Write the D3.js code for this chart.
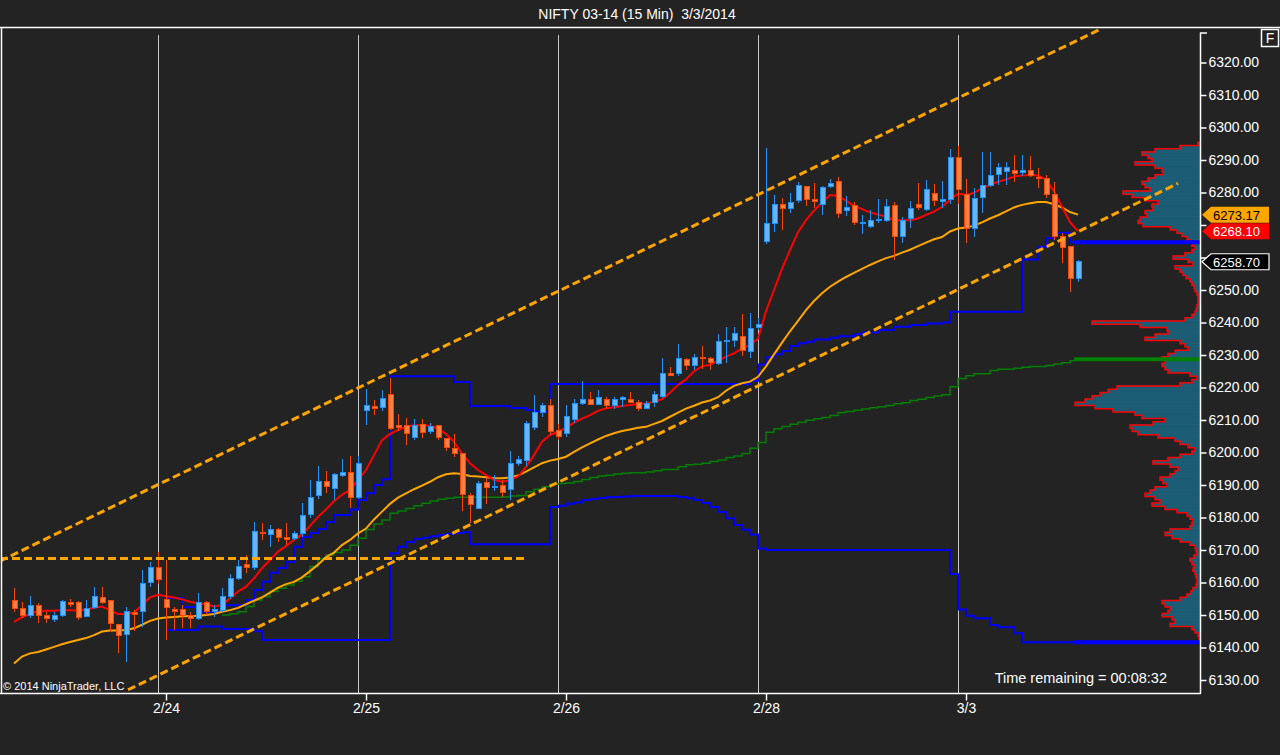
<!DOCTYPE html>
<html>
<head>
<meta charset="utf-8">
<script src="https://cdn.jsdelivr.net/npm/d3@7"></script>
<style>
  body { margin: 0; background: #232323; }
  svg { display: block; font-family: "Liberation Sans", Arial, sans-serif; }
</style>
</head>
<body>
<svg id="chart" width="1280" height="755"></svg>
<script>
// ---- data (NIFTY 03-14, 15 min bars, 2/21 partial .. 3/3) ----
var sessionStartBars = [19, 44, 69, 94, 119];
var sessionLabels = ["2/24", "2/25", "2/26", "2/28", "3/3"];
var priceTicks = [6130, 6140, 6150, 6160, 6170, 6180, 6190, 6200, 6210, 6220, 6230,
                  6240, 6250, 6260, 6270, 6280, 6290, 6300, 6310, 6320];
// labels hidden behind the price markers
var hiddenTickLabels = [6260, 6270];

var opens = [
  6154.6, 6152.1, 6149.7, 6153.0, 6150.0, 6148.5, 6150.0, 6154.0, 6154.0, 6149.5, 6152.3, 6155.5, 6154.6, 6147.0, 6144.0, 6150.8, 6151.0, 6160.0, 6164.7,
  6154.8, 6151.7, 6151.7, 6149.7, 6149.0, 6154.0, 6151.0, 6151.5, 6155.6, 6161.3, 6165.4, 6164.6, 6175.5, 6174.8, 6176.2, 6173.9, 6173.5, 6175.1, 6181.0, 6186.7, 6191.2, 6189.0, 6193.0, 6194.0, 6186.2,
  6213.0, 6214.3, 6213.8, 6217.7, 6208.3, 6208.2, 6204.7, 6208.7, 6206.4, 6208.2, 6204.4, 6201.3, 6199.7, 6186.9, 6182.9, 6190.8, 6189.2, 6189.7, 6188.5, 6196.7, 6197.5, 6207.7, 6212.2, 6214.5, 6206.9,
  6205.7, 6210.3, 6215.1, 6216.3, 6214.8, 6216.3, 6214.6, 6216.2, 6216.3, 6215.4, 6213.6, 6215.4, 6217.2, 6224.2, 6224.3, 6228.7, 6226.7, 6229.3, 6229.0, 6227.4, 6234.2, 6234.4, 6235.8, 6231.1, 6238.5,
  6264.9, 6270.5, 6276.3, 6275.1, 6277.5, 6281.9, 6277.9, 6276.4, 6281.9, 6283.3, 6274.5, 6275.9, 6270.5, 6269.5, 6271.3, 6271.5, 6275.9, 6266.4, 6272.0, 6276.2, 6274.8, 6279.7, 6277.2, 6277.7, 6290.8,
  6279.4, 6269.0, 6278.5, 6282.1, 6285.4, 6286.4, 6286.9, 6286.2, 6286.9, 6284.7, 6284.4, 6279.5, 6266.6, 6263.5, 6253.6
];
var highs = [
  6158.3, 6154.0, 6155.8, 6153.7, 6151.0, 6151.0, 6154.6, 6155.0, 6154.2, 6154.6, 6158.7, 6158.7, 6154.6, 6147.2, 6152.5, 6151.5, 6163.8, 6166.4, 6169.5,
  6166.9, 6152.5, 6153.0, 6151.0, 6156.8, 6154.3, 6153.0, 6158.3, 6162.5, 6166.9, 6168.5, 6178.7, 6178.2, 6177.7, 6176.7, 6178.2, 6176.0, 6184.4, 6191.5, 6195.8, 6194.3, 6193.6, 6197.9, 6198.9, 6198.9,
  6219.4, 6216.3, 6219.2, 6222.8, 6211.8, 6210.5, 6210.2, 6210.2, 6209.2, 6208.5, 6204.6, 6205.7, 6199.9, 6187.6, 6191.3, 6192.4, 6193.1, 6191.5, 6200.6, 6198.9, 6209.8, 6217.7, 6215.3, 6216.4, 6208.8,
  6214.6, 6216.6, 6222.0, 6218.7, 6219.2, 6217.0, 6217.2, 6217.4, 6218.7, 6216.3, 6215.8, 6219.0, 6229.0, 6226.4, 6233.4, 6229.2, 6230.3, 6232.8, 6229.5, 6236.5, 6238.7, 6238.7, 6242.6, 6242.8, 6241.5,
  6293.6, 6279.2, 6278.2, 6280.0, 6283.3, 6282.1, 6282.8, 6282.0, 6284.3, 6284.7, 6278.9, 6277.2, 6273.2, 6274.6, 6278.0, 6277.9, 6277.2, 6272.6, 6277.4, 6282.8, 6284.0, 6282.6, 6283.6, 6293.3, 6294.3,
  6284.3, 6281.3, 6292.5, 6292.5, 6289.2, 6289.5, 6291.5, 6291.5, 6291.2, 6287.6, 6285.4, 6283.1, 6267.6, 6263.6, 6259.1
];
var lows = [
  6150.9, 6149.0, 6149.0, 6147.6, 6147.5, 6148.0, 6149.5, 6152.5, 6148.5, 6149.4, 6152.0, 6153.4, 6145.0, 6138.3, 6135.6, 6145.0, 6146.4, 6158.7, 6159.5,
  6142.3, 6145.4, 6146.0, 6146.0, 6148.5, 6150.0, 6149.5, 6151.0, 6155.0, 6160.8, 6163.0, 6163.8, 6173.0, 6171.0, 6172.6, 6171.5, 6173.0, 6174.1, 6179.7, 6185.8, 6187.4, 6185.5, 6192.6, 6182.8, 6185.8,
  6208.5, 6211.5, 6212.9, 6206.9, 6206.7, 6202.3, 6203.8, 6204.6, 6205.7, 6203.7, 6200.5, 6198.7, 6182.1, 6178.2, 6182.5, 6184.2, 6188.2, 6186.2, 6185.4, 6195.8, 6195.8, 6206.9, 6210.8, 6205.4, 6203.8,
  6204.9, 6209.2, 6214.6, 6214.6, 6214.6, 6213.3, 6213.3, 6214.0, 6215.1, 6212.9, 6213.3, 6214.1, 6216.7, 6223.5, 6223.5, 6225.4, 6225.4, 6225.6, 6225.4, 6226.9, 6227.4, 6232.6, 6229.7, 6229.2, 6237.6,
  6264.2, 6268.0, 6268.5, 6273.8, 6276.9, 6275.8, 6275.1, 6273.2, 6281.3, 6272.2, 6272.8, 6270.0, 6267.2, 6269.0, 6270.5, 6271.0, 6259.2, 6264.6, 6269.2, 6274.6, 6274.4, 6275.8, 6275.1, 6276.6, 6276.6,
  6264.6, 6266.2, 6273.6, 6281.8, 6282.3, 6282.3, 6283.3, 6285.1, 6284.7, 6281.4, 6278.2, 6265.4, 6258.2, 6249.5, 6252.6
];
var closes = [
  6152.1, 6149.7, 6153.0, 6150.0, 6149.0, 6150.0, 6154.3, 6153.3, 6149.3, 6152.0, 6155.8, 6154.0, 6147.4, 6143.8, 6151.0, 6150.2, 6159.8, 6164.5, 6160.8,
  6152.2, 6151.1, 6150.0, 6149.0, 6154.0, 6151.0, 6151.8, 6155.6, 6161.3, 6165.0, 6164.7, 6175.8, 6175.1, 6176.2, 6173.8, 6173.3, 6175.1, 6180.7, 6186.2, 6191.2, 6189.5, 6193.1, 6194.0, 6186.2, 6196.6,
  6214.4, 6213.5, 6216.7, 6207.4, 6207.7, 6205.7, 6208.4, 6206.1, 6207.9, 6204.7, 6201.6, 6199.7, 6187.1, 6184.0, 6190.5, 6189.2, 6189.6, 6187.6, 6196.7, 6197.7, 6208.8, 6212.4, 6214.6, 6206.5, 6204.9,
  6211.2, 6215.1, 6216.3, 6214.8, 6216.9, 6214.6, 6216.3, 6216.8, 6215.4, 6213.6, 6215.1, 6217.9, 6224.2, 6223.8, 6229.0, 6226.7, 6229.3, 6228.9, 6227.6, 6234.1, 6234.6, 6236.5, 6231.3, 6238.2, 6239.5,
  6270.5, 6276.3, 6275.1, 6277.0, 6282.2, 6278.0, 6277.2, 6281.6, 6282.8, 6273.6, 6275.4, 6270.8, 6270.8, 6271.5, 6271.8, 6275.6, 6266.4, 6271.5, 6275.2, 6275.4, 6280.8, 6277.4, 6277.9, 6290.8, 6281.0,
  6269.0, 6278.2, 6282.1, 6285.1, 6287.7, 6287.7, 6285.9, 6286.9, 6285.1, 6284.3, 6279.5, 6266.4, 6263.1, 6253.6, 6258.7
];

// fast (red) and slow (orange) moving averages, one value per bar
var fastMA = [
  6147.9, 6149.3, 6150.3, 6151.2, 6151.3, 6151.3, 6151.5, 6151.5, 6151.3, 6151.7, 6152.2, 6152.6, 6151.5, 6150.3, 6150.3, 6150.7, 6153.1, 6155.4, 6156.2,
  6155.8, 6155.4, 6154.8, 6154.1, 6153.6, 6153.3, 6152.6, 6153.1, 6155.1, 6157.2, 6158.7, 6161.3, 6164.4, 6166.9, 6169.5, 6171.2, 6173.1, 6174.8, 6177.4, 6180.2, 6182.5, 6185.0, 6187.0, 6188.5, 6191.5,
  6194.6, 6199.2, 6203.8, 6205.7, 6206.9, 6207.9, 6208.4, 6208.4, 6208.2, 6207.4, 6205.7, 6203.3, 6199.7, 6196.7, 6194.6, 6193.1, 6191.5, 6191.0, 6191.5, 6192.6, 6195.6, 6199.2, 6203.3, 6205.4, 6206.4,
  6207.6, 6209.2, 6210.4, 6211.5, 6212.8, 6213.6, 6213.9, 6214.3, 6214.6, 6214.9, 6215.1, 6215.6, 6216.4, 6218.4, 6220.8, 6222.5, 6225.0, 6226.5, 6227.0, 6228.2, 6229.5, 6230.5, 6232.0, 6233.1, 6235.0,
  6243.5, 6250.0, 6256.5, 6262.3, 6267.8, 6271.5, 6274.4, 6276.9, 6279.2, 6278.9, 6277.5, 6275.9, 6274.9, 6273.9, 6273.2, 6272.6, 6271.5, 6271.5, 6271.5, 6272.0, 6273.1, 6274.1, 6275.6, 6277.7, 6279.7,
  6279.2, 6279.9, 6281.3, 6282.3, 6283.3, 6284.0, 6284.9, 6285.2, 6285.4, 6285.2, 6284.0, 6280.3, 6275.6, 6270.9, 6268.1
];
var slowMA = [
  6135.1, 6137.2, 6138.2, 6138.6, 6139.4, 6140.2, 6141.0, 6141.7, 6142.3, 6142.9, 6143.8, 6144.9, 6145.2, 6145.2, 6145.4, 6145.9, 6147.0, 6148.2, 6148.9,
  6149.2, 6149.4, 6149.6, 6149.7, 6149.8, 6150.0, 6150.3, 6151.0, 6151.5, 6152.2, 6153.3, 6154.4, 6155.4, 6156.9, 6158.4, 6159.5, 6160.2, 6161.6, 6163.5, 6165.5, 6167.8, 6169.2, 6171.5, 6173.1, 6175.1,
  6176.6, 6179.4, 6181.8, 6184.2, 6186.1, 6187.4, 6188.7, 6189.8, 6191.0, 6192.4, 6193.3, 6193.6, 6193.4, 6192.8, 6192.6, 6192.4, 6192.1, 6192.1, 6192.3, 6192.9, 6194.1, 6195.4, 6196.7, 6197.5, 6198.0,
  6198.7, 6200.2, 6201.6, 6202.8, 6204.0, 6205.1, 6205.9, 6206.6, 6207.1, 6207.6, 6207.9, 6208.8, 6209.7, 6211.0, 6212.3, 6213.5, 6214.4, 6215.4, 6216.0, 6217.0, 6219.0, 6220.5, 6221.3, 6221.8, 6223.3,
  6226.5, 6230.2, 6233.8, 6237.3, 6240.5, 6243.8, 6246.6, 6249.0, 6251.0, 6252.6, 6254.0, 6255.3, 6256.5, 6257.7, 6258.8, 6259.8, 6260.5, 6261.5, 6262.4, 6263.5, 6264.6, 6265.6, 6266.3, 6268.0, 6268.9,
  6269.2, 6269.8, 6270.8, 6272.0, 6273.0, 6274.2, 6275.4, 6276.2, 6276.7, 6277.1, 6277.1, 6276.4, 6275.4, 6274.0, 6273.2
];

// stepped lines, first bar index + one value per bar
var greenStart = 26;
var greenLine = [
  6150.0, 6150.4, 6151.0, 6152.6, 6154.6, 6155.6, 6157.2, 6158.2, 6159.2, 6160.4, 6161.8, 6164.9, 6167.4, 6168.5, 6169.2, 6170.0, 6171.5, 6173.6,
  6176.3, 6178.0, 6179.2, 6181.3, 6182.0, 6182.8, 6183.6, 6184.4, 6185.1, 6185.6, 6185.9, 6186.2, 6186.2, 6186.2, 6186.2, 6186.2, 6186.2, 6186.3, 6186.6, 6186.8, 6187.9, 6188.7, 6189.5, 6190.2, 6190.5,
  6190.6, 6191.1, 6191.7, 6192.3, 6192.8, 6193.0, 6193.4, 6193.6, 6193.8, 6193.8, 6194.0, 6194.4, 6194.8, 6194.8, 6195.6, 6196.2, 6196.4, 6196.7, 6197.2, 6197.7, 6198.5, 6198.9, 6199.7, 6201.3, 6203.1,
  6206.2, 6207.3, 6208.0, 6208.7, 6209.3, 6209.9, 6210.4, 6210.8, 6211.4, 6212.3, 6212.6, 6213.0, 6213.4, 6213.8, 6214.1, 6214.5, 6215.0, 6215.3, 6216.0, 6216.4, 6216.9, 6217.4, 6217.8, 6220.2, 6222.8,
  6223.6, 6224.2, 6224.2, 6225.2, 6225.6, 6225.6, 6225.9, 6226.2, 6226.5, 6226.5, 6226.8, 6227.2, 6227.6, 6228.2
];
var greenLast = 6228.7;
var blueStart = 19;
var blueUpper = [
  6155.2, 6155.2, 6152.5, 6152.5, 6151.0, 6151.0, 6151.0, 6153.0, 6153.0, 6153.0, 6154.6, 6157.7, 6160.2, 6163.0, 6164.5, 6166.3, 6171.0, 6174.0, 6175.2, 6176.5, 6178.6, 6180.8, 6180.8, 6182.5, 6185.4,
  6187.5, 6190.0, 6191.8, 6223.5, 6223.5, 6223.5, 6223.5, 6223.5, 6223.5, 6223.5, 6223.5, 6221.7, 6221.7, 6214.3, 6214.3, 6214.3, 6214.3, 6214.3, 6213.7, 6213.7, 6213.1, 6212.6, 6212.6, 6221.1, 6221.1,
  6221.1, 6221.1, 6221.1, 6221.1, 6221.1, 6221.1, 6221.1, 6221.1, 6221.1, 6221.1, 6221.1, 6221.1, 6221.1, 6221.1, 6221.1, 6221.1, 6221.1, 6221.1, 6221.1, 6221.1, 6221.1, 6221.1, 6221.1, 6222.1, 6227.1,
  6229.3, 6230.2, 6231.2, 6232.8, 6233.6, 6234.1, 6234.8, 6234.8, 6235.3, 6235.8, 6235.8, 6236.4, 6236.9, 6236.9, 6237.7, 6237.7, 6238.7, 6238.7, 6239.2, 6239.2, 6239.7, 6239.7, 6240.0, 6243.3, 6243.3,
  6243.3, 6243.3, 6243.3, 6243.3, 6243.3, 6243.3, 6243.3, 6259.4, 6259.4, 6263.3, 6265.9, 6267.6, 6267.6, 6264.7
];
var blueLower = [
  6145.4, 6145.4, 6145.4, 6145.4, 6146.5, 6146.5, 6146.5, 6145.7, 6145.7, 6145.7, 6145.7, 6145.0, 6142.3, 6142.3, 6142.3, 6142.3, 6142.3, 6142.3, 6142.3, 6142.3, 6142.3, 6142.3, 6142.3, 6142.3, 6142.3,
  6142.3, 6142.3, 6142.3, 6169.0, 6171.0, 6172.5, 6173.4, 6173.8, 6174.2, 6174.6, 6175.0, 6175.2, 6175.5, 6171.8, 6171.8, 6171.8, 6171.8, 6171.8, 6171.8, 6171.8, 6171.8, 6171.8, 6171.8, 6183.2, 6183.6,
  6184.2, 6184.6, 6185.4, 6185.7, 6186.0, 6186.2, 6186.3, 6186.5, 6186.6, 6186.6, 6186.6, 6186.6, 6186.6, 6186.6, 6186.3, 6185.9, 6185.4, 6184.5, 6183.2, 6181.7, 6179.8, 6177.7, 6176.2, 6174.8, 6170.5,
  6170.0, 6170.0, 6170.0, 6170.0, 6170.0, 6170.0, 6170.0, 6170.0, 6170.0, 6170.0, 6170.0, 6170.0, 6170.0, 6170.0, 6170.0, 6170.0, 6170.0, 6170.0, 6170.0, 6170.0, 6170.0, 6170.0, 6170.0, 6162.6, 6151.7,
  6149.8, 6149.0, 6149.0, 6146.9, 6146.2, 6146.2, 6144.4, 6141.6, 6141.6, 6141.6, 6141.6, 6141.6, 6141.6, 6141.6
];

// drawn trend lines: [bar, price] at both ends
var channelUpper = [[-1.75, 6166.6], [135.75, 6330.2]];
var channelLower = [[14.25, 6127.0], [145.5, 6282.8]];
var levelLine = [[-1.75, 6167.4], [63.9, 6167.4]];

// volume profile, one value per point from the top price downwards
var profileTop = 6295;
var profileVolume = [
  2, 20, 45, 58, 52, 48, 65, 45, 38, 37, 45, 52, 58, 55, 50, 77, 68, 55, 42, 48, 47, 55, 53, 60, 62, 57,
  30, 23, 18, 13, 10, 8, 5, 8, 15, 27, 12, 7, 25, 20, 17, 14, 10, 8, 6, 5, 3, 2, 2, 2, 3, 4, 5, 8, 15,
  108, 60, 33, 32, 45, 55, 20, 15, 12, 25, 32, 38, 35, 38, 35, 32, 10, 3, 8, 20,
  83, 92, 100, 108, 115, 125, 105, 87, 65, 58, 35, 47, 70, 68, 62, 42, 25, 20, 12, 5, 8,
  20, 32, 47, 30, 22, 25, 30, 40, 37, 33, 45, 50, 55, 45, 40, 48, 35, 23, 13, 10, 7, 8, 10,
  30, 35, 28, 20, 10, 5, 4, 3, 6, 10, 8, 6, 7, 5, 4, 3, 3, 4, 7, 9, 13, 20,
  38, 35, 30, 32, 38, 28, 25, 30, 8, 5, 2, 1, 0
];

// right-hand price markers
var markerValues = [6273.17, 6268.10, 6258.70];
var markerFills = ["#ffa500", "#ff0000", "#000000"];
var markerText = ["#000000", "#ffffff", "#ffffff"];

// ---- drawing ----
var width = 1280, height = 755;
var plot = { left: 1, top: 27, right: 1200, bottom: 693 };

var svg = d3.select("#chart");

var x = d3.scaleLinear().domain([0, 133]).range([14, 1078]);
var y = d3.scaleLinear().domain([6130, 6320]).range([680, 62.5]);
var vol = d3.scaleLinear().domain([0, 100]).range([0, 100]);

svg.append("rect")
    .attr("width", width).attr("height", height)
    .attr("fill", "#232323");

// title (two spaces before the date, as in the original)
svg.append("text")
    .attr("x", 637).attr("y", 19)
    .attr("text-anchor", "middle")
    .attr("fill", "#ffffff")
    .attr("xml:space", "preserve")
    .style("white-space", "pre")
    .style("font-size", "14px")
    .text("NIFTY 03-14 (15 Min)  3/3/2014");

svg.append("defs").append("clipPath").attr("id", "plotclip")
    .append("rect")
    .attr("x", plot.left).attr("y", plot.top)
    .attr("width", plot.right - plot.left).attr("height", plot.bottom - plot.top);

var g = svg.append("g").attr("clip-path", "url(#plotclip)");

// volume profile
var levels = profileVolume.map((v, k) => ({ price: profileTop - k, v: v }));
var prof = g.append("g");
prof.selectAll("rect")
    .data(levels)
    .join("rect")
        .attr("x", d => plot.right - vol(d.v))
        .attr("y", d => y(d.price + 0.5))
        .attr("width", d => vol(d.v))
        .attr("height", d => y(d.price - 0.5) - y(d.price + 0.5))
        .attr("fill", "#1b5b73")
        .attr("stroke", "#216a84")
        .attr("stroke-width", 0.4);

var outline = [[plot.right, y(profileTop + 0.5)]];
levels.forEach(d => {
    outline.push([plot.right - vol(d.v), y(d.price + 0.5)]);
    outline.push([plot.right - vol(d.v), y(d.price - 0.5)]);
});
outline.push([plot.right, y(levels[levels.length - 1].price - 0.5)]);
prof.append("path")
    .attr("d", d3.line()(outline))
    .attr("fill", "none")
    .attr("stroke", "#ff0000")
    .attr("stroke-width", 1.5);

// session separators
g.append("g")
  .selectAll("line")
  .data(sessionStartBars)
  .join("line")
    .attr("x1", d => Math.round(x(d - 1)) + 0.5)
    .attr("x2", d => Math.round(x(d - 1)) + 0.5)
    .attr("y1", 35)
    .attr("y2", plot.bottom)
    .attr("stroke", "#c8c8c8")
    .attr("stroke-width", 1);

// stepped lines
function stepData(start, vals) {
    var pts = vals.map((v, k) => [start + k, v]);
    pts.push([start + vals.length - 0.5, vals[vals.length - 1]]);
    return pts;
}
var stepLine = d3.line()
    .x(d => x(d[0]))
    .y(d => y(d[1]))
    .curve(d3.curveStepAfter);

g.append("path")
    .attr("d", stepLine(stepData(greenStart, greenLine)))
    .attr("fill", "none")
    .attr("stroke", "#008000")
    .attr("stroke-width", 1.5);
g.append("path")
    .attr("d", stepLine(stepData(blueStart, blueUpper)))
    .attr("fill", "none")
    .attr("stroke", "#0000ff")
    .attr("stroke-width", 2);
g.append("path")
    .attr("d", stepLine(stepData(blueStart, blueLower)))
    .attr("fill", "none")
    .attr("stroke", "#0000ff")
    .attr("stroke-width", 2);

// last values carried to the right edge
var lastBar = blueStart + blueUpper.length - 0.5;
[[blueUpper[blueUpper.length - 1], "#0000ff"],
 [blueLower[blueLower.length - 1], "#0000ff"],
 [greenLast, "#008000"]].forEach(function (d) {
    g.append("line")
        .attr("x1", x(lastBar)).attr("x2", plot.right)
        .attr("y1", y(d[0])).attr("y2", y(d[0]))
        .attr("stroke", d[1])
        .attr("stroke-width", 4);
});

// moving averages
var maLine = d3.line()
    .x((d, i) => x(i))
    .y(d => y(d));
g.append("path")
    .attr("d", maLine(slowMA))
    .attr("fill", "none")
    .attr("stroke", "#ffa500")
    .attr("stroke-width", 2);
g.append("path")
    .attr("d", maLine(fastMA))
    .attr("fill", "none")
    .attr("stroke", "#ff0000")
    .attr("stroke-width", 2);

// candles
var bars = opens.map((o, i) => ({ i: i, o: o, h: highs[i], l: lows[i], c: closes[i] }));
var candles = g.append("g").attr("shape-rendering", "crispEdges");
candles.selectAll("line")
    .data(bars)
    .join("line")
        .attr("x1", d => x(d.i) + 0.5)
        .attr("x2", d => x(d.i) + 0.5)
        .attr("y1", d => y(d.h))
        .attr("y2", d => y(d.l))
        .attr("stroke", d => d.c >= d.o ? "#1e90ff" : "#ff4500")
        .attr("stroke-width", 1);
candles.selectAll("rect")
    .data(bars)
    .join("rect")
        .attr("x", d => x(d.i) - 2)
        .attr("y", d => y(Math.max(d.o, d.c)))
        .attr("width", 5)
        .attr("height", d => Math.max(1, Math.abs(y(d.o) - y(d.c))))
        .attr("fill", d => d.c >= d.o ? "#6ab6f4" : "#ff8045")
        .attr("stroke", d => d.c >= d.o ? "#1e90ff" : "#ff4500")
        .attr("stroke-width", 1);

// dashed channel lines
var trend = d3.line().x(d => x(d[0])).y(d => y(d[1]));
[channelUpper, channelLower, levelLine].forEach(function (pts) {
    g.append("path")
        .attr("d", trend(pts))
        .attr("fill", "none")
        .attr("stroke", "#ffa500")
        .attr("stroke-width", 3)
        .attr("stroke-dasharray", "8,4");
});

// frame
var frame = svg.append("g").attr("stroke", "#ffffff").attr("stroke-width", 1.5);
frame.append("line").attr("x1", 0).attr("x2", width).attr("y1", 27.5).attr("y2", 27.5);
frame.append("line").attr("x1", 1.5).attr("x2", 1.5).attr("y1", 27).attr("y2", 693.5);
frame.append("line").attr("x1", 0).attr("x2", 1201).attr("y1", 693.5).attr("y2", 693.5);
frame.append("line").attr("x1", 1200.5).attr("x2", 1200.5).attr("y1", 32.5).attr("y2", 693.5);
frame.append("line").attr("x1", 1200.5).attr("x2", 1207).attr("y1", 33).attr("y2", 33);

// price axis
var yAxis = g2 => g2
    .attr("transform", "translate(1200.5,0)")
    .style("font-size", "14px")
    .style("font-family", "'Liberation Sans', Arial, sans-serif")
    .call(d3.axisRight(y).tickValues(priceTicks)
        .tickFormat(d => hiddenTickLabels.includes(d) ? "" : d3.format(".2f")(d))
        .tickSize(6).tickPadding(2))
    .call(g2 => g2.select(".domain").remove())
    .call(g2 => g2.selectAll(".tick line").attr("stroke", "#ffffff").attr("stroke-width", 1.5))
    .call(g2 => g2.selectAll(".tick text").attr("fill", "#ffffff"));
svg.append("g").call(yAxis);

// date axis
var xAxis = g2 => g2
    .attr("transform", "translate(0,693.5)")
    .style("font-size", "14px")
    .style("font-family", "'Liberation Sans', Arial, sans-serif")
    .call(d3.axisBottom(x).tickValues(sessionStartBars)
        .tickFormat((d, k) => sessionLabels[k]).tickSize(7).tickPadding(3))
    .call(g2 => g2.select(".domain").remove())
    .call(g2 => g2.selectAll(".tick line").attr("stroke", "#ffffff").attr("stroke-width", 1.5))
    .call(g2 => g2.selectAll(".tick text").attr("fill", "#ffffff"));
svg.append("g").call(xAxis);

// price markers
var markers = svg.append("g")
  .selectAll("g")
  .data(markerValues)
  .join("g")
    .attr("transform", d => `translate(1202,${y(d)})`);
markers.append("path")
    .attr("d", "M0,0L9,-8L67,-8L67,8L9,8Z")
    .attr("fill", (d, k) => markerFills[k])
    .attr("stroke", (d, k) => k === 2 ? "#ffffff" : "none")
    .attr("stroke-width", 1.2);
markers.append("text")
    .attr("x", 11).attr("y", 5)
    .attr("fill", (d, k) => markerText[k])
    .style("font-size", "13px")
    .text(d => d3.format(".2f")(d));

// "F" box
svg.append("rect")
    .attr("x", 1261.5).attr("y", 29.5).attr("width", 17).attr("height", 17)
    .attr("fill", "none").attr("stroke", "#ffffff").attr("stroke-width", 1.5);
svg.append("text")
    .attr("x", 1270).attr("y", 43)
    .attr("text-anchor", "middle")
    .attr("fill", "#ffffff")
    .style("font-size", "14px")
    .text("F");

svg.append("text")
    .attr("x", 1167).attr("y", 683)
    .attr("text-anchor", "end")
    .attr("fill", "#ffffff")
    .style("font-size", "14.5px")
    .text("Time remaining = 00:08:32");

svg.append("text")
    .attr("x", 3).attr("y", 690)
    .attr("fill", "#ffffff")
    .style("font-size", "11px")
    .text("© 2014 NinjaTrader, LLC");
</script>
</body>
</html>
